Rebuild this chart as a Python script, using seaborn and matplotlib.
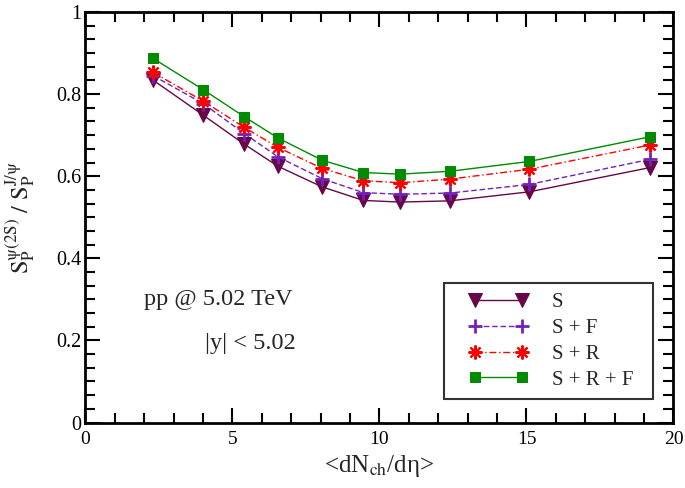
import numpy as np
import pandas as pd
import matplotlib
matplotlib.use("Agg")
import matplotlib.pyplot as plt
from matplotlib.ticker import MultipleLocator
from matplotlib.legend_handler import HandlerLine2D
import seaborn as sns

# multiplicity bins <dNch/deta>
dndeta = [2.3, 4.0, 5.4, 6.55, 8.05, 9.45, 10.7, 12.4, 15.1, 19.2]

ratio_s = [0.834, 0.749, 0.678, 0.624, 0.574, 0.541, 0.537, 0.540, 0.562, 0.621]
ratio_sf = [0.845, 0.777, 0.704, 0.647, 0.594, 0.560, 0.556, 0.559, 0.580, 0.641]
ratio_sr = [0.853, 0.783, 0.719, 0.670, 0.619, 0.589, 0.584, 0.593, 0.617, 0.676]
ratio_srf = [0.887, 0.811, 0.745, 0.693, 0.639, 0.609, 0.605, 0.612, 0.636, 0.696]

labels = ["S", "S + F", "S + R", "S + R + F"]

sns.set_style("ticks")
plt.rcParams['font.family'] = ['Liberation Serif', 'DejaVu Serif']
plt.rcParams['mathtext.fontset'] = 'stix'

fig = plt.figure(figsize=(6.85, 4.88), dpi=100)
ax = fig.add_axes([0.1248, 0.1342, 0.8584, 0.8412])

styles = [
    dict(color='#670748', marker='v', markersize=10, linestyle='-'),
    dict(color='#7221bc', marker='+', markersize=10, markeredgewidth=2, linestyle=(0, (4, 2))),
    dict(color='#ff0000', marker=(8, 2, 0), markersize=10, markeredgewidth=1.5, linestyle=(0, (5, 2, 1, 2))),
    dict(color='#008b00', marker='s', markersize=7, linestyle='-'),
]
series = [ratio_s, ratio_sf, ratio_sr, ratio_srf]

for vals, lab, st in zip(series, labels, styles):
    df = pd.DataFrame({'x': dndeta, 'y': vals})
    sns.lineplot(data=df, x='x', y='y', ax=ax, label=lab, legend=False,
                 sort=False, linewidth=1.0, markeredgecolor=st['color'], **st)

ax.set_xlim(0, 20)
ax.set_ylim(0, 1)
ax.set_yticks([0, 0.2, 0.4, 0.6, 0.8, 1.0])
ax.set_yticklabels(['0', '0.2', '0.4', '0.6', '0.8', '1'])
ax.set_xticks([0, 5, 10, 15, 20])
ax.set_xticklabels(['0', '5', '10', '15', '20'])
ax.xaxis.set_minor_locator(MultipleLocator(1))
ax.yaxis.set_minor_locator(MultipleLocator(0.2 / 6))
ax.tick_params(which='both', direction='in', top=True, right=True, width=1.5,
               colors='black')
ax.tick_params(which='major', length=11)
ax.tick_params(which='minor', length=7)
ax.tick_params(axis='x', which='major', pad=6, labelsize=14)
ax.tick_params(axis='y', which='major', pad=3, labelsize=14.5)
for sp in ax.spines.values():
    sp.set_linewidth(2)
    sp.set_color('black')

ax.set_xlabel(r'<dN$_{\mathrm{ch}}$/dη>', fontsize=18, labelpad=4)
ax.set_ylabel(r'$\mathrm{S_P^{\psi(2S)}\ /\ S_P^{J/\psi}}$', fontsize=17.5, labelpad=14)

ax.text(2.0, 0.30, 'pp @ 5.02 TeV', fontsize=17.5, va='center', ha='left')
ax.text(4.05, 0.193, '|y| < 5.02', fontsize=17.5, va='center', ha='left')

# legend box spans a fixed width; extra room ends up on the right like the original
leg = ax.legend(loc='lower left', bbox_to_anchor=(0.6097, 0.057, 0.3554, 0.3),
                mode='expand', borderaxespad=0,
                numpoints=2, handlelength=4.33, fontsize=15, fancybox=False,
                frameon=True, edgecolor='black', borderpad=0.45, labelspacing=0.30,
                handletextpad=0.4,
                handler_map={l: HandlerLine2D(marker_pad=1.04) for l in ax.get_lines()})
leg.get_frame().set_linewidth(1.5)

fig.savefig('out.png', dpi=100)
